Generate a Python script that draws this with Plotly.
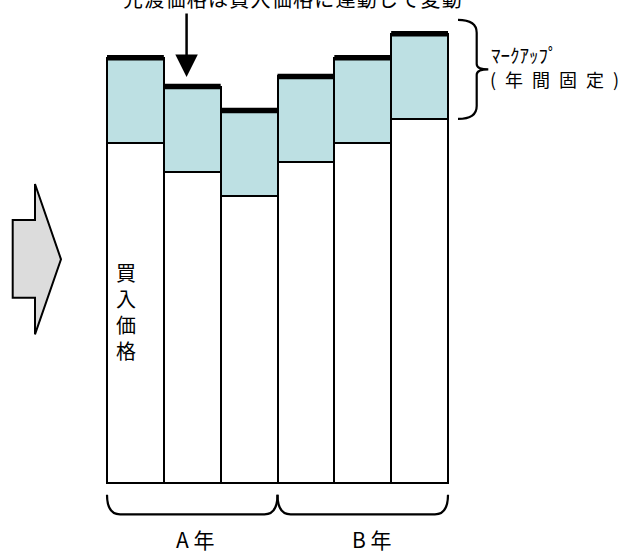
import plotly.graph_objects as go

# Price build-up for six periods: three in year A, three in year B
periods = [0, 1, 2, 3, 4, 5]
purchase_price = [100, 91.5, 84.5, 94.5, 100, 107]   # 買入価格
markup = [25, 25, 25, 25, 25, 25]                    # fixed for the year
year_labels = ["A 年", "B 年"]
year_spans = [(0, 2), (3, 5)]

title_text = "先渡価格は買入価格に連動して変動"
markup_text = "ﾏｰｸｱｯﾌﾟ"
markup_note = "(\u2002年\u2002間\u2002固\u2002定\u2002)"
base_label = "買<br>入<br>価<br>格"

W, H = 621, 555
X_RANGE = [-2.383, 8.544]
Y_RANGE = [-21.06, 141.94]
FONT = "Noto Sans CJK JP"
TEAL = "#BDE0E3"


def px(xp):
    return xp / W


def py(yp):
    return 1 - yp / H


totals = [b + m for b, m in zip(purchase_price, markup)]

fig = go.Figure()

fig.add_trace(go.Bar(
    x=periods, y=purchase_price, width=1,
    marker=dict(color="white", line=dict(color="black", width=2)),
    hoverinfo="skip",
))
fig.add_trace(go.Bar(
    x=periods, y=markup, width=1,
    marker=dict(color=TEAL, line=dict(color="black", width=2)),
    hoverinfo="skip",
))

# thick cap on top of each bar (the forward price level)
cap_x, cap_y = [], []
for p, t in zip(periods, totals):
    cap_x += [p - 0.5, p + 0.5, None]
    cap_y += [t, t, None]
fig.add_trace(go.Scatter(
    x=cap_x, y=cap_y, mode="lines",
    line=dict(color="black", width=5.5), hoverinfo="skip",
))

shapes = []

# braces under each year's group of bars
y_top, y_bot = -3.4, -9.1
for (a, b) in year_spans:
    x0, x1 = a - 0.5, b + 0.5
    dx = 0.23
    path = (f"M {x0},{y_top} Q {x0},{y_bot} {x0 + dx},{y_bot} "
            f"L {x1 - dx},{y_bot} Q {x1},{y_bot} {x1},{y_top}")
    shapes.append(dict(type="path", path=path, xref="x", yref="y",
                       line=dict(color="black", width=2.2)))

# brace to the right of the last bar marking the markup
last = periods[-1]
xa, xb, xc = last + 0.5 + 0.176, last + 0.5 + 0.505, last + 0.5 + 0.709
yt, yb = totals[-1] + 4.1, purchase_price[-1]
ym = (yt + yb) / 2
r1, r2 = 3.8, 1.6
rb_path = (f"M {xa},{yt} Q {xb},{yt} {xb},{yt - r1} L {xb},{ym + r2} "
           f"Q {xb},{ym} {xc},{ym} Q {xb},{ym} {xb},{ym - r2} "
           f"L {xb},{yb + r1} Q {xb},{yb} {xa},{yb}")
shapes.append(dict(type="path", path=rb_path, xref="x", yref="y",
                   line=dict(color="black", width=2.2)))

# grey block arrow on the left
arrow_pts = [(12.7, 220), (35, 220), (35, 184), (61, 259.3),
             (35, 334.3), (35, 297.7), (12.7, 297.7)]
arrow_path = "M " + " L ".join(f"{px(x)},{py(y)}" for x, y in arrow_pts) + " Z"
shapes.append(dict(type="path", path=arrow_path, xref="paper", yref="paper",
                   fillcolor="#DCDCDC", line=dict(color="black", width=2)))

annotations = [
    dict(text="\u200a".join(title_text),
         x=px(292), y=py(-2), xref="paper", yref="paper",
         xanchor="center", yanchor="middle", showarrow=False,
         font=dict(family=FONT, size=20, color="black")),
    dict(text=markup_text, x=px(489), y=py(55), xref="paper", yref="paper",
         xanchor="left", yanchor="middle", showarrow=False,
         font=dict(family=FONT, size=19, color="black")),
    dict(text=markup_note, x=px(488), y=py(79), xref="paper", yref="paper",
         xanchor="left", yanchor="middle", showarrow=False,
         font=dict(family=FONT, size=18, color="black")),
    dict(text=base_label, x=px(126), y=py(311), xref="paper", yref="paper",
         xanchor="center", yanchor="middle", showarrow=False,
         font=dict(family=FONT, size=20, color="black")),
    dict(text=year_labels[0], x=px(195), y=py(539), xref="paper", yref="paper",
         xanchor="center", yanchor="middle", showarrow=False,
         font=dict(family=FONT, size=21, color="black")),
    dict(text=year_labels[1], x=px(372), y=py(539), xref="paper", yref="paper",
         xanchor="center", yanchor="middle", showarrow=False,
         font=dict(family=FONT, size=21, color="black")),
    # pointer to the second period's cap
    dict(text="", x=0.9, y=totals[1] + 2.8, ax=0.9, ay=138.4,
         xref="x", yref="y", axref="x", ayref="y",
         showarrow=True, arrowhead=2, arrowsize=1.8, arrowwidth=2.5,
         arrowcolor="black", standoff=0),
]

fig.update_layout(
    width=W, height=H,
    margin=dict(l=0, r=0, t=0, b=0),
    paper_bgcolor="white", plot_bgcolor="white",
    barmode="stack", bargap=0, showlegend=False,
    xaxis=dict(range=X_RANGE, visible=False, fixedrange=True),
    yaxis=dict(range=Y_RANGE, visible=False, fixedrange=True),
    shapes=shapes, annotations=annotations,
)

fig.write_html("out.html", config={"displayModeBar": False})
